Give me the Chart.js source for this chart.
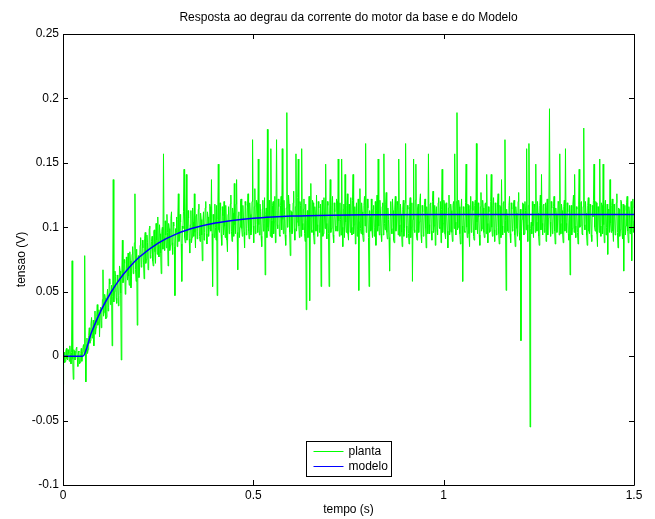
<!DOCTYPE html>
<html>
<head>
<meta charset="utf-8">
<script src="https://cdn.jsdelivr.net/npm/chart.js@4.4.1/dist/chart.umd.min.js"></script>
<style>
  body { margin: 0; background: #fff; }
  #grafico { display: block; }
</style>
</head>
<body>
<canvas id="grafico" width="655" height="519"></canvas>
<script>
const TITULO = 'Resposta ao degrau da corrente do motor da base e do Modelo';
const ROTULO_X = 'tempo (s)';
const ROTULO_Y = 'tensao (V)';
const FONTE = '"Liberation Sans", Arial, sans-serif';

const xTicks = [0, 0.5, 1, 1.5];
const xTickLabels = ['0', '0.5', '1', '1.5'];
const yTicks = [-0.1, -0.05, 0, 0.05, 0.1, 0.15, 0.2, 0.25];
const yTickLabels = ['-0.1', '-0.05', '0', '0.05', '0.1', '0.15', '0.2', '0.25'];

const periodo = 0.0015;
const plantaMv = [
  -22, 1, 3, -5, -4, 4, 6, -2, -3, 5, 2, -4, 8, 1, -6, 3, 74, -2, -18, 5,
  4, -3, -2, 6, 7, -1, -8, 4, 3, -6, -5, 2, 6, -4, 3, 7, 9, 1, 78, 6,
  -20, 9, 14, 2, 5, 16, 22, 10, 12, 25, 30, 14, 18, 28, 8, 24, 35, 17, 22, 31,
  40, 24, 26, 36, 15, 33, 38, 22, 28, 44, 67, 31, 34, 48, 45, 29, 30, 46, 52, 35,
  38, 60, 56, 40, 44, 55, 8, 46, 137, 42, 50, 66, 62, 45, 41, 63, 58, 39, 47, 70,
  66, 49, -3, 64, 90, 57, 58, 75, 72, 48, 52, 77, 68, 59, 80, 62, 55, 81, 74, 53,
  62, 79, 85, 64, 70, 88, 126, 67, 58, 83, 24, 73, 78, 61, 66, 86, 92, 69, 71, 90,
  84, 73, 60, 91, 96, 72, 75, 94, 88, 67, 68, 99, 101, 76, 79, 89, 93, 74, 70, 97,
  98, 81, 72, 103, 90, 79, 108, 86, 77, 102, 95, 80, 64, 97, 100, 83, 157, 92, 82, 105,
  94, 84, 110, 96, 70, 103, 99, 82, 86, 107, 112, 88, 79, 104, 101, 85, 47, 99, 96, 108,
  85, 106, 126, 89, 90, 110, 104, 87, 58, 101, 99, 112, 145, 92, 88, 108, 141, 90, 95, 113,
  107, 91, 80, 102, 113, 88, 92, 115, 104, 93, 126, 96, 84, 109, 110, 91, 97, 114, 118, 93,
  89, 111, 106, 94, 74, 104, 112, 90, 96, 115, 120, 95, 87, 112, 108, 93, 99, 118, 116, 97,
  137, 95, 54, 110, 102, 92, 118, 100, 90, 117, 47, 106, 149, 98, 96, 119, 113, 94, 86, 116,
  109, 94, 120, 101, 92, 117, 105, 90, 81, 110, 116, 95, 98, 118, 125, 97, 89, 115, 111, 93,
  134, 102, 95, 118, 137, 96, 67, 109, 112, 92, 100, 121, 122, 99, 93, 117, 108, 96, 84, 120,
  117, 94, 99, 115, 126, 97, 91, 119, 110, 94, 96, 120, 168, 101, 88, 116, 130, 95, 102, 121,
  119, 96, 153, 102, 94, 118, 112, 93, 85, 114, 121, 97, 103, 123, 63, 110, 115, 92, 176, 100,
  97, 121, 109, 93, 161, 105, 92, 117, 120, 95, 104, 124, 88, 113, 168, 102, 99, 122, 116, 94,
  93, 117, 124, 98, 161, 106, 95, 121, 110, 94, 86, 115, 189, 100, 101, 125, 118, 96, 78, 113,
  112, 95, 96, 119, 128, 99, 90, 116, 157, 97, 104, 123, 153, 101, 92, 120, 117, 93, 161, 103,
  98, 114, 122, 95, 89, 118, 36, 105, 113, 92, 101, 124, 43, 107, 134, 98, 96, 121, 119, 94,
  87, 116, 110, 97, 125, 102, 93, 120, 115, 96, 100, 118, 54, 108, 121, 93, 95, 123, 108, 99,
  149, 103, 91, 120, 117, 95, 54, 111, 137, 96, 99, 117, 124, 94, 88, 119, 112, 101, 97, 122,
  120, 97, 153, 105, 93, 119, 106, 94, 153, 100, 85, 114, 118, 92, 141, 104, 96, 117, 126, 95,
  90, 118, 109, 96, 123, 100, 94, 121, 141, 95, 102, 116, 87, 112, 119, 93, 98, 122, 51, 104,
  130, 99, 95, 119, 112, 94, 89, 117, 124, 101, 165, 96, 97, 122, 115, 92, 54, 113, 108, 97,
  122, 98, 92, 114, 117, 93, 100, 120, 86, 113, 125, 97, 153, 101, 94, 121, 111, 95, 89, 116,
  119, 94, 157, 103, 98, 118, 127, 96, 91, 115, 106, 92, 66, 109, 120, 99, 95, 122, 113, 90,
  88, 115, 124, 97, 101, 120, 117, 94, 153, 102, 93, 118, 110, 96, 85, 114, 121, 93, 99, 119,
  165, 101, 92, 117, 114, 95, 87, 116, 123, 92, 100, 119, 58, 106, 153, 98, 96, 121, 149, 94,
  90, 115, 118, 96, 104, 121, 126, 94, 88, 117, 112, 93, 97, 118, 122, 99, 84, 116, 109, 95,
  157, 102, 95, 118, 119, 97, 90, 120, 128, 96, 101, 117, 86, 112, 116, 98, 94, 119, 123, 100,
  99, 120, 88, 114, 145, 96, 103, 121, 118, 95, 91, 119, 111, 97, 84, 115, 125, 94, 97, 118,
  113, 96, 89, 117, 120, 99, 157, 104, 94, 120, 189, 98, 100, 121, 116, 95, 87, 113, 122, 101,
  58, 116, 110, 97, 96, 119, 149, 100, 92, 118, 117, 95, 85, 114, 124, 96, 101, 120, 113, 93,
  90, 117, 121, 98, 165, 104, 95, 119, 108, 94, 86, 116, 127, 97, 99, 121, 115, 96, 92, 118,
  119, 95, 141, 103, 88, 116, 112, 96, 97, 120, 141, 100, 93, 117, 123, 98, 89, 119, 110, 94,
  100, 118, 126, 95, 87, 117, 116, 92, 137, 101, 94, 119, 120, 96, 168, 105, 51, 114, 109, 97,
  96, 117, 124, 95, 88, 119, 114, 97, 99, 118, 121, 94, 85, 116, 111, 99, 93, 120, 127, 96,
  90, 114, 12, 97, 106, 119, 118, 94, 95, 120, 113, 98, 161, 102, 89, 117, 165, 110, -55, 99,
  104, 95, 120, 101, 92, 118, 116, 96, 149, 104, 97, 120, 111, 93, 86, 117, 125, 98, 141, 103,
  94, 117, 118, 96, 100, 119, 89, 115, 122, 94, 107, 118, 192, 104, 93, 120, 115, 95, 98, 116,
  124, 97, 87, 115, 110, 96, 101, 120, 119, 94, 157, 103, 95, 118, 113, 95, 88, 116, 121, 97,
  161, 103, 96, 119, 112, 95, 90, 117, 63, 108, 117, 94, 99, 118, 125, 96, 141, 101, 92, 116,
  114, 96, 87, 118, 145, 100, 101, 119, 120, 95, 94, 116, 177, 102, 98, 120, 111, 94, 86, 117,
  123, 97, 95, 118, 116, 94, 89, 117, 108, 121, 149, 100, 97, 120, 119, 95, 85, 116, 112, 96,
  153, 101, 93, 119, 117, 95, 149, 102, 88, 117, 121, 94, 100, 118, 79, 114, 113, 96, 137, 103,
  96, 117, 122, 97, 89, 118, 110, 94, 95, 119, 126, 96, 84, 115, 114, 93, 98, 121, 120, 95,
  91, 118, 66, 113, 117, 94, 101, 119, 124, 97, 88, 116, 111, 95, 96, 120, 74, 115, 122, 96,
  105
];

const modeloT = [0, 0.052, 0.075, 0.1, 0.125, 0.15, 0.175, 0.2, 0.25, 0.3, 0.35, 0.4, 0.45, 0.5, 0.55, 0.6, 0.7, 0.8, 1.0, 1.5];
const modeloV = [0, 0, 0.0185, 0.0355, 0.049, 0.0602, 0.0692, 0.0767, 0.0877, 0.0951, 0.1, 0.1033, 0.1055, 0.107, 0.108, 0.1087, 0.1094, 0.1097, 0.11, 0.11];

const planta = plantaMv.map((v, i) => ({ x: i * periodo, y: v / 1000 }));
const modelo = modeloT.map((t, i) => ({ x: t, y: modeloV[i] }));

// moldura estilo matlab: caixa, ticks para dentro e legenda
const moldura = {
  id: 'moldura',
  afterDraw(chart) {
    const { ctx, chartArea: a, scales } = chart;
    ctx.save();
    ctx.strokeStyle = '#000';
    ctx.lineWidth = 1;
    ctx.beginPath();
    ctx.rect(a.left + 0.5, a.top + 0.5, a.width, a.height);
    xTicks.forEach(v => {
      const px = Math.round(scales.x.getPixelForValue(v)) + 0.5;
      ctx.moveTo(px, a.bottom); ctx.lineTo(px, a.bottom - 5);
      ctx.moveTo(px, a.top); ctx.lineTo(px, a.top + 5);
    });
    yTicks.forEach(v => {
      const py = Math.round(scales.y.getPixelForValue(v)) + 0.5;
      ctx.moveTo(a.left, py); ctx.lineTo(a.left + 5, py);
      ctx.moveTo(a.right, py); ctx.lineTo(a.right - 5, py);
    });
    ctx.stroke();

    // legenda
    const w = 85, h = 35;
    const x0 = Math.round((a.left + a.right) / 2 - w / 2) + 0.5;
    const y0 = Math.round(a.bottom - 9 - h) + 0.5;
    ctx.fillStyle = '#fff';
    ctx.fillRect(x0, y0, w, h);
    ctx.strokeRect(x0, y0, w, h);
    ctx.font = '12px ' + FONTE;
    ctx.textBaseline = 'middle';
    const itens = [chart.data.datasets[1], chart.data.datasets[0]];
    itens.forEach((ds, k) => {
      const yy = y0 + 10 + k * 15;
      ctx.strokeStyle = ds.borderColor;
      ctx.beginPath();
      ctx.moveTo(x0 + 7, yy); ctx.lineTo(x0 + 37, yy);
      ctx.stroke();
      ctx.fillStyle = '#000';
      ctx.fillText(ds.label, x0 + 42, yy);
    });
    ctx.restore();
  }
};

new Chart(document.getElementById('grafico'), {
  type: 'line',
  data: {
    datasets: [{
      label: 'modelo',
      data: modelo,
      borderColor: '#0000ff',
      borderWidth: 1.5,
      pointRadius: 0,
      cubicInterpolationMode: 'monotone',
      order: 1
    }, {
      label: 'planta',
      data: planta,
      borderColor: '#00ff00',
      borderWidth: 1,
      pointRadius: 0,
      tension: 0,
      order: 2
    }]
  },
  options: {
    responsive: false,
    animation: false,
    devicePixelRatio: 1,
    layout: { padding: { left: 0, right: 21, top: 0, bottom: 0 } },
    plugins: {
      legend: { display: false },
      tooltip: { enabled: false },
      title: {
        display: true,
        fullSize: false,
        text: TITULO,
        color: '#000',
        font: { family: FONTE, size: 12, weight: 'normal' },
        padding: { top: 10, bottom: 9.6 }
      }
    },
    scales: {
      x: {
        type: 'linear',
        min: 0,
        max: 1.5,
        afterBuildTicks: s => { s.ticks = xTicks.map(v => ({ value: v })); },
        afterFit: s => { s.height = 34; },
        grid: { display: false, drawTicks: false },
        border: { display: false },
        ticks: {
          color: '#000',
          padding: 3,
          maxRotation: 0,
          font: { family: FONTE, size: 12 },
          callback: (v, i) => xTickLabels[i]
        },
        title: {
          display: true,
          text: ROTULO_X,
          color: '#000',
          font: { family: FONTE, size: 12 },
          padding: { top: 0, bottom: 2 }
        }
      },
      y: {
        type: 'linear',
        min: -0.1,
        max: 0.25,
        afterBuildTicks: s => { s.ticks = yTicks.map(v => ({ value: v })); },
        afterFit: s => { s.width = 63; },
        grid: { display: false, drawTicks: false },
        border: { display: false },
        ticks: {
          color: '#000',
          padding: 4,
          font: { family: FONTE, size: 12 },
          callback: (v, i) => yTickLabels[i]
        },
        title: {
          display: true,
          text: ROTULO_Y,
          color: '#000',
          font: { family: FONTE, size: 12 },
          padding: { top: 14, bottom: 0 }
        }
      }
    }
  },
  plugins: [moldura]
});
</script>
</body>
</html>
